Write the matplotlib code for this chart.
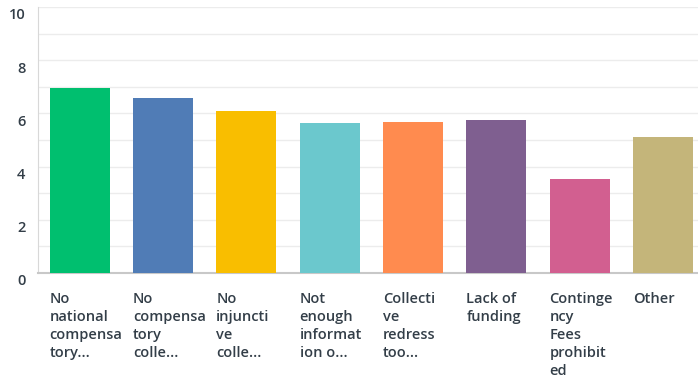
import numpy as np
import matplotlib
matplotlib.use("Agg")
import matplotlib.pyplot as plt
import matplotlib.transforms as mtransforms

# average ranking per obstacle
labels = [
    "No\nnational\ncompensa\ntory...",
    "No\ncompensa\ntory\ncolle...",
    "No\ninjuncti\nve\ncolle...",
    "Not\nenough\ninformat\nion o...",
    "Collecti\nve\nredress\ntoo...",
    "Lack of\nfunding",
    "Continge\nncy\nFees\nprohibit\ned",
    "Other",
]
values = [6.94, 6.58, 6.08, 5.63, 5.68, 5.74, 3.52, 5.12]
colors = ["#00bf6f", "#507cb6", "#f9be00", "#6bc8cd",
          "#ff8b4f", "#7f5f90", "#d25f90", "#c4b57a"]
yticks = [0, 2, 4, 6, 8, 10]

plt.rcParams['font.family'] = ['Open Sans', 'DejaVu Sans']
txtcol = "#333e48"

fig = plt.figure(figsize=(6.98, 3.81), dpi=100)
ax = fig.add_axes([0.0544, 0.2835, 0.955, 0.698])

x = np.arange(len(values))
w = 0.72
ax.bar(x, values, width=w, color=colors, zorder=3)

ax.set_xlim(-0.5, len(values) - 0.5)
ax.set_ylim(0, 10)
ax.set_yticks(yticks)
ax.set_yticks(range(1, 10, 2), minor=True)
ax.set_yticklabels([str(t) for t in yticks], fontsize=10.5, color=txtcol,
                   fontweight='semibold')
ax.tick_params(axis='y', which='both', length=0, pad=9)
# tick numbers sit a little below their gridlines
shift = mtransforms.ScaledTranslation(0, -5 / 72, fig.dpi_scale_trans)
for t in ax.get_yticklabels():
    t.set_transform(t.get_transform() + shift)
ax.set_xticks([])
ax.grid(axis='y', which='both', color="#ececec", linewidth=1, zorder=0)

for s in ["top", "right"]:
    ax.spines[s].set_visible(False)
ax.spines["left"].set_color("#d8d8d8")
ax.spines["bottom"].set_color("#c8c8c8")
ax.spines["bottom"].set_linewidth(1.5)

trans = mtransforms.blended_transform_factory(ax.transData, ax.transAxes)
for i, lab in enumerate(labels):
    ax.text(i - w / 2, -0.072, lab, transform=trans, ha='left', va='top',
            fontsize=10.5, color=txtcol, linespacing=1.36,
            fontweight='semibold')

fig.savefig("out.png", dpi=100)
